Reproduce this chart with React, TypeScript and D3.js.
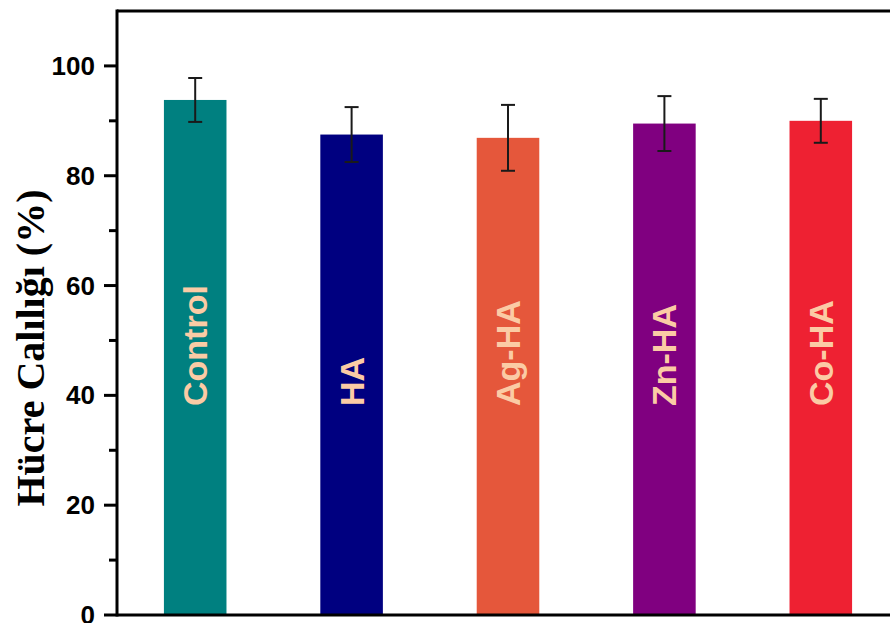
import React from "react";
import * as d3 from "d3";

const categories = ["Control", "HA", "Ag-HA", "Zn-HA", "Co-HA"];
const means = [93.8, 87.5, 86.9, 89.5, 90.0];
const errors = [4.0, 5.0, 6.0, 5.0, 4.0];
const colors = ["#008080", "#000080", "#E5573B", "#800080", "#EE2132"];
const majorTicks = [0, 20, 40, 60, 80, 100];
const minorTicks = [10, 30, 50, 70, 90];
const yTitle = "Hücre Calılığı (%)";

export default function App() {
  const W = 890;
  const H = 623;
  const left = 117;
  const right = 899;
  const top = 11;
  const bottom = 615;

  const x = d3.scaleBand<string>().domain(categories).range([left, right]).paddingInner(0.6).paddingOuter(0.3);
  const y = d3.scaleLinear().domain([0, 110]).range([bottom, top]);

  const axisW = 3;

  return (
    <svg width={W} height={H} style={{ position: "absolute", left: 0, top: 0, background: "#fff" }}>
      {categories.map((c, i) => {
        const bx = x(c)!;
        const bw = x.bandwidth();
        const cx = bx + bw / 2;
        return (
          <g key={c}>
            <rect x={bx} y={y(means[i])} width={bw} height={y(0) - y(means[i])} fill={colors[i]} />
            <line x1={cx} x2={cx} y1={y(means[i] + errors[i])} y2={y(means[i] - errors[i])} stroke="#1a1a1a" strokeWidth={2} />
            <line x1={cx - 7} x2={cx + 7} y1={y(means[i] + errors[i])} y2={y(means[i] + errors[i])} stroke="#1a1a1a" strokeWidth={2} />
            <line x1={cx - 7} x2={cx + 7} y1={y(means[i] - errors[i])} y2={y(means[i] - errors[i])} stroke="#1a1a1a" strokeWidth={2} />
            <text
              transform={`translate(${cx},406) rotate(-90)`}
              dy="0.35em"
              textAnchor="start"
              fill="#FBCBA5"
              fontFamily="Liberation Sans, Arial, sans-serif"
              fontWeight="bold"
              fontSize={34}
            >
              {c}
            </text>
          </g>
        );
      })}

      {/* frame */}
      <line x1={left} x2={W} y1={top} y2={top} stroke="#000" strokeWidth={axisW} />
      <line x1={left} x2={W} y1={bottom} y2={bottom} stroke="#000" strokeWidth={axisW} />
      <line x1={left} x2={left} y1={top - axisW / 2} y2={bottom + axisW / 2} stroke="#000" strokeWidth={axisW} />

      {majorTicks.map((t) => (
        <g key={"M" + t}>
          <line x1={left - 13} x2={left} y1={y(t)} y2={y(t)} stroke="#000" strokeWidth={axisW} />
          <text
            x={95}
            y={y(t)}
            dy="0.35em"
            textAnchor="end"
            fontFamily="Liberation Sans, Arial, sans-serif"
            fontWeight="bold"
            fontSize={26}
            fill="#000"
          >
            {t}
          </text>
        </g>
      ))}
      {minorTicks.map((t) => (
        <line key={"m" + t} x1={left - 8} x2={left} y1={y(t)} y2={y(t)} stroke="#000" strokeWidth={axisW} />
      ))}

      <text
        transform={`translate(44,348) rotate(-90)`}
        textAnchor="middle"
        fontFamily="Liberation Serif, Times New Roman, serif"
        fontWeight="bold"
        fontSize={40}
        fill="#000"
      >
        {yTitle}
      </text>
    </svg>
  );
}
